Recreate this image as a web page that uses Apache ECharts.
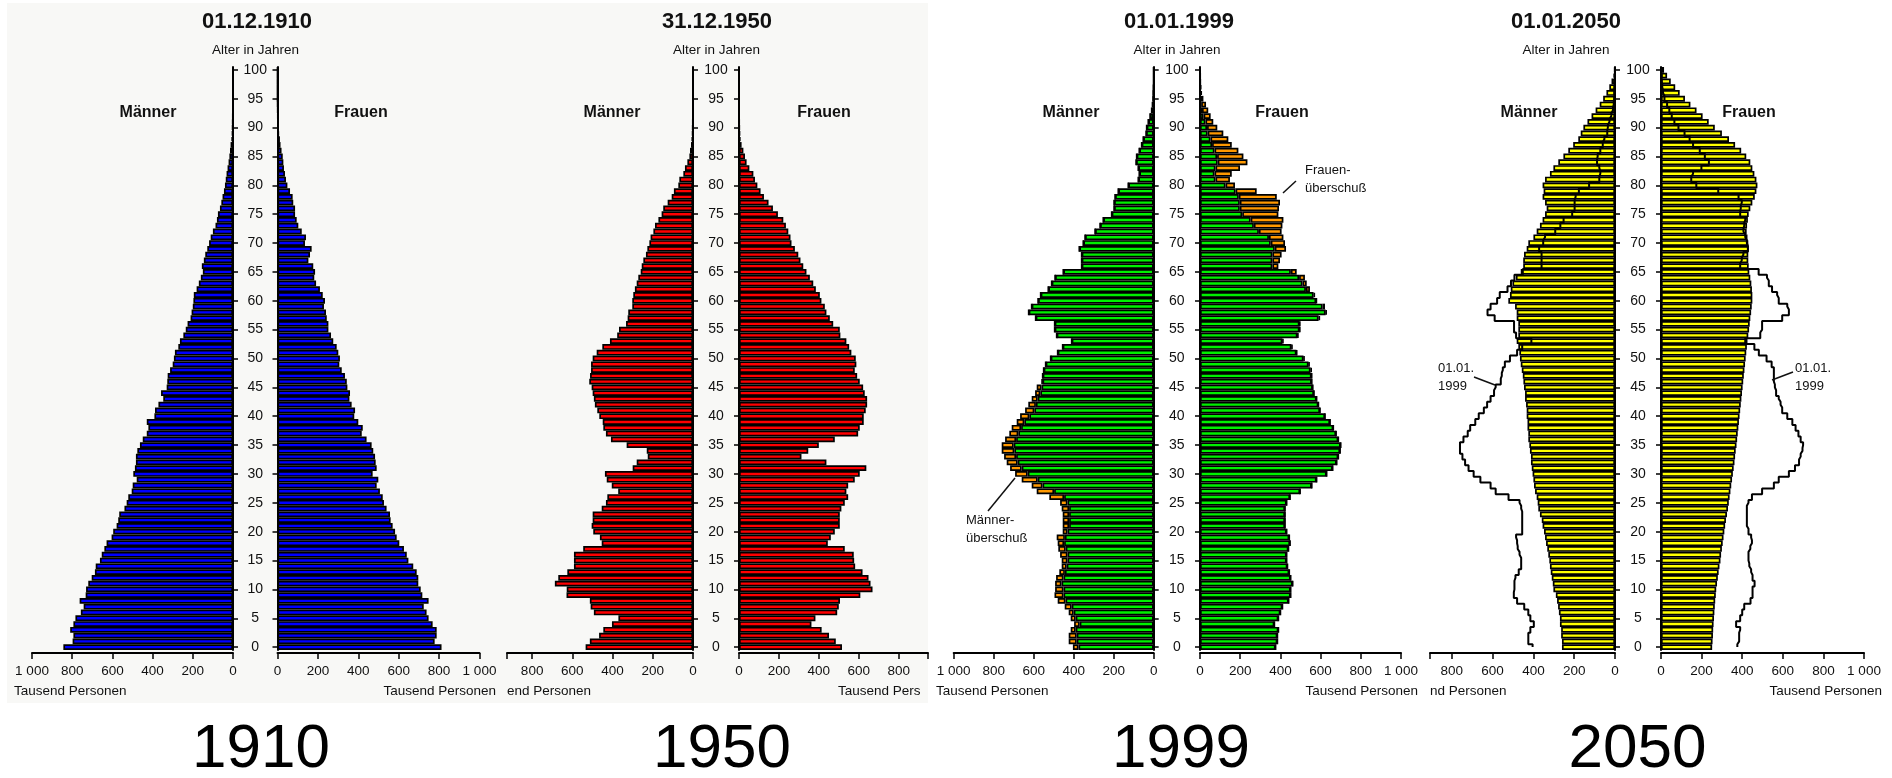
<!DOCTYPE html>
<html><head><meta charset="utf-8">
<script src="https://cdn.jsdelivr.net/npm/echarts@6/dist/echarts.min.js"></script>
<style>html,body{margin:0;padding:0;background:#fff}#c{width:1892px;height:778px}</style>
</head><body><div id="c"></div>
<script>
// ---------- DATA (thousand persons by single year of age, index = age 0..100) ----------
const ages = Array.from({length: 101}, (_, i) => String(i));
const xTicks = [0, 200, 400, 600, 800, 1000];

const m1910 = [844,798,794,810,794,784,757,743,763,733,731,720,703,687,683,662,653,640,629,604,
  596,579,571,566,540,529,521,504,499,479,496,488,483,483,476,463,449,429,421,429,
  391,388,371,347,358,330,327,325,313,300,294,289,272,264,247,235,226,211,206,200,
  197,195,181,170,160,150,155,145,138,128,119,111,100,87,80,75,65,58,52,45,
  40,36,32,27,22,18,15,12,8,5,4,3,2,1,1,0,0,0,0,0,0];
const f1910 = [812,778,788,788,768,748,738,724,748,717,709,697,697,689,672,648,640,626,603,590,
  582,570,560,557,540,527,521,507,491,499,471,491,486,483,474,466,441,417,422,400,
  380,384,367,356,359,346,343,334,318,306,309,301,293,276,265,252,252,244,240,230,
  235,224,210,191,182,186,177,153,161,169,136,141,120,103,95,87,87,78,75,62,
  49,42,37,32,29,26,20,15,12,8,6,4,3,2,1,0,0,0,0,0,0];

const m1950 = [534,513,467,446,403,371,493,509,513,629,628,687,670,625,592,592,592,546,454,463,
  496,504,499,499,454,433,426,372,404,429,438,300,280,225,230,330,408,433,446,449,
  466,476,488,493,499,504,516,512,507,507,499,479,451,413,377,368,333,325,322,302,
  302,297,289,280,272,260,255,247,234,227,217,211,197,189,172,156,148,126,106,95,
  73,68,48,40,28,18,15,10,7,4,3,2,1,0,0,0,0,0,0,0,0];
const f1950 = [516,485,451,414,363,383,492,500,506,608,669,659,649,619,582,577,575,530,445,460,
  480,505,505,505,513,530,547,538,547,580,605,638,438,313,347,400,480,597,605,625,
  625,635,642,642,630,622,605,592,580,588,585,563,552,538,508,505,472,455,438,430,
  413,405,385,372,355,338,322,308,297,280,263,258,247,235,222,195,170,148,125,108,
  92,80,72,52,38,30,22,13,8,5,3,2,1,0,0,0,0,0,0,0,0];

const m1999 = [404,425,425,415,398,415,425,445,480,496,493,493,488,472,460,460,468,477,480,485,
  455,455,455,455,460,468,522,585,610,660,693,718,735,748,760,760,743,722,710,685,
  668,643,627,610,593,585,560,555,550,540,515,480,455,410,485,495,495,590,625,610,
  578,565,527,510,493,452,360,360,360,372,352,343,293,268,252,210,198,198,193,177,
  127,77,72,77,88,85,72,60,52,38,35,27,18,10,6,3,2,1,0,0,0];
const f1999 = [376,385,385,390,370,390,400,410,441,451,451,461,451,444,435,431,431,440,448,444,
  431,423,423,423,423,431,448,498,556,580,630,660,680,688,697,700,688,677,663,647,
  622,597,589,580,567,561,556,556,556,545,520,482,460,415,489,498,498,597,630,622,
  580,572,547,531,522,481,390,398,406,428,423,415,406,410,415,390,393,398,382,282,
  174,149,158,199,236,216,191,158,141,116,86,66,53,41,30,17,10,6,3,2,0];

const m2050 = [260,260,264,264,270,270,275,279,284,290,302,305,310,315,319,322,327,332,338,343,
  348,355,359,368,376,379,384,392,397,400,404,408,412,412,417,420,425,425,429,429,
  433,433,436,441,441,446,449,452,457,462,466,469,474,482,474,474,474,482,482,490,
  523,515,511,503,486,462,450,450,446,433,425,400,384,368,355,343,335,343,355,350,
  355,343,319,302,278,253,229,205,180,168,155,135,115,95,75,58,42,28,17,8,3];
const f2050 = [252,254,256,257,259,261,263,265,267,270,272,276,280,284,288,293,296,300,304,308,
  312,316,320,325,330,334,338,342,346,350,354,358,362,365,368,372,375,378,381,384,
  387,390,393,396,399,402,405,408,411,414,417,420,423,426,430,434,437,440,444,447,
  450,450,448,445,440,435,432,430,430,432,430,426,422,424,428,432,440,450,462,470,
  475,470,460,450,440,420,395,365,335,300,265,235,205,175,145,118,92,70,48,30,15];

// ---------- LAYOUT / STYLE ----------
const FONT = '"Liberation Sans", Arial, Helvetica, sans-serif';
const GRID_TOP = 67, GRID_H = 583;
const panels = [
  {title:'01.12.1910', tx:257, ax:255.5, year:'1910', yx:261, color:'#0000ff',
   L:{x0:32, x1:233, max:1000}, R:{x0:277.5, x1:479.5, max:1000}, m:m1910, f:f1910,
   mx:148, fx:361},
  {title:'31.12.1950', tx:717, ax:716.5, year:'1950', yx:722, color:'#ff0000',
   L:{x0:507, x1:693, max:925}, R:{x0:739, x1:928, max:947}, m:m1950, f:f1950,
   mx:612, fx:824},
  {title:'01.01.1999', tx:1179, ax:1177, year:'1999', yx:1181, color:'#00f000',
   L:{x0:953.7, x1:1153.7, max:1000}, R:{x0:1200, x1:1401, max:1000}, m:m1999, f:f1999,
   mx:1071, fx:1282, split:true},
  {title:'01.01.2050', tx:1566, ax:1566, year:'2050', yx:1637.5, color:'#ffff00',
   L:{x0:1430, x1:1615, max:907}, R:{x0:1661, x1:1864, max:1000}, m:m2050, f:f2050,
   mx:1529, fx:1749, outline:true}
];

const grids = [], xAxes = [], yAxes = [], series = [];
function fmt(v){ if (v % 200 !== 0) return ''; return v === 1000 ? '1 000' : String(v); }
const barBase = {type:'bar', barCategoryGap:'0%', barGap:'0%', silent:true, animation:false};
function border(c){ return {color:c, borderColor:'#000', borderWidth:1.7}; }

panels.forEach((p, pi) => {
  ['L','R'].forEach(side => {
    const g = p[side], idx = grids.length, isL = side === 'L';
    grids.push({left:g.x0, width:g.x1 - g.x0, top:GRID_TOP, height:GRID_H});
    xAxes.push({type:'value', gridIndex:idx, inverse:isL, min:0, max:g.max, interval:200,
      position:'bottom', offset:3,
      axisLine:{show:true, onZero:false, lineStyle:{color:'#000', width:2}},
      axisTick:{show:true, length:6, lineStyle:{color:'#000', width:1.5}},
      axisLabel:{show:true, formatter:fmt, margin:11, fontSize:13.5, color:'#111', fontFamily:FONT,
        showMinLabel:true, showMaxLabel:true},
      splitLine:{show:false}});
    const gap = (p.R.x0 - p.L.x1);
    yAxes.push({type:'category', gridIndex:idx, data:ages, boundaryGap:true,
      position: isL ? 'right' : 'left',
      axisLine:{show:true, onZero:false, lineStyle:{color:'#000', width:2}},
      axisTick:{show:true, alignWithLabel:true, interval:4, length:5, lineStyle:{color:'#000', width:1.5}},
      axisLabel:{show:isL, interval:4, align:'center', margin:gap/2, fontSize:14, color:'#111', fontFamily:FONT},
      splitLine:{show:false}});
    const vals = isL ? p.m : p.f, other = isL ? p.f : p.m;
    if (p.split) {
      const common = vals.map((v, i) => Math.min(v, other[i]));
      const surplus = vals.map((v, i) => v - common[i]);
      series.push(Object.assign({}, barBase, {xAxisIndex:idx, yAxisIndex:idx, stack:'s'+idx,
        data:common, itemStyle:border(p.color)}));
      series.push(Object.assign({}, barBase, {xAxisIndex:idx, yAxisIndex:idx, stack:'s'+idx,
        data:surplus, itemStyle:border('#ff9900')}));
    } else {
      series.push(Object.assign({}, barBase, {xAxisIndex:idx, yAxisIndex:idx, data:vals,
        itemStyle:border(p.color)}));
    }
    if (p.outline) {
      series.push({type:'line', xAxisIndex:idx, yAxisIndex:idx, data: isL ? m1999 : f1999,
        step:'middle', symbol:'none', silent:true, animation:false, z:5,
        lineStyle:{color:'#000', width:2}});
    }
  });
});

// ---------- TEXT ----------
const txt = (x, y, text, size, opts = {}) => Object.assign({type:'text', x, y, silent:true, z:10,
  style:Object.assign({text, fill:'#111', font:(opts.bold ? 'bold ' : '') + size + 'px ' + FONT,
    textAlign: opts.align || 'center', align: opts.align || 'center',
    textVerticalAlign:'middle', verticalAlign:'middle'}, opts.style || {})});
const seg = (x1, y1, x2, y2) => ({type:'line', silent:true, z:10, shape:{x1, y1, x2, y2},
  style:{stroke:'#111', lineWidth:1.5}});

const graphics = [
  {type:'rect', z:-10, silent:true, shape:{x:7, y:3, width:921, height:700}, style:{fill:'#f8f8f6'}}
];
panels.forEach(p => {
  graphics.push(txt(p.tx, 22, p.title, 22, {bold:true}));
  graphics.push(txt(p.ax, 50, 'Alter in Jahren', 13.5));
  graphics.push(txt(p.mx, 113, 'Männer', 16, {bold:true}));
  graphics.push(txt(p.fx, 113, 'Frauen', 16, {bold:true}));
  graphics.push(txt(p.yx, 750, p.year, 62, {style:{fill:'#000'}}));
});
// "Tausend Personen" axis names (partly cut off in the source collage)
graphics.push(txt(14, 691, 'Tausend Personen', 13.5, {align:'left'}));
graphics.push(txt(496, 691, 'Tausend Personen', 13.5, {align:'right'}));
graphics.push(txt(507, 691, 'end Personen', 13.5, {align:'left'}));
graphics.push(txt(838, 691, 'Tausend Personen', 13.5, {align:'left',
  style:{width:89, overflow:'truncate', ellipsis:''}}));
graphics.push(txt(936, 691, 'Tausend Personen', 13.5, {align:'left'}));
graphics.push(txt(1418, 691, 'Tausend Personen', 13.5, {align:'right'}));
graphics.push(txt(1430, 691, 'nd Personen', 13.5, {align:'left'}));
graphics.push(txt(1882, 691, 'Tausend Personen', 13.5, {align:'right'}));
// annotations
graphics.push(txt(966, 529, 'Männer-\nüberschuß', 13, {align:'left', style:{lineHeight:18}}));
graphics.push(seg(988, 511, 1015, 478));
graphics.push(txt(1305, 179, 'Frauen-\nüberschuß', 13, {align:'left', style:{lineHeight:18}}));
graphics.push(seg(1283, 193, 1296, 181));
graphics.push(txt(1438, 377, '01.01.\n1999', 13, {align:'left', style:{lineHeight:18}}));
graphics.push(seg(1474, 377, 1495, 385));
graphics.push(txt(1795, 377, '01.01.\n1999', 13, {align:'left', style:{lineHeight:18}}));
graphics.push(seg(1772, 380, 1793, 372));

const chart = echarts.init(document.getElementById('c'), null, {renderer:'canvas'});
chart.setOption({
  backgroundColor:'#ffffff', animation:false,
  grid:grids, xAxis:xAxes, yAxis:yAxes, series:series,
  graphic:{elements:graphics}
});
</script></body></html>
